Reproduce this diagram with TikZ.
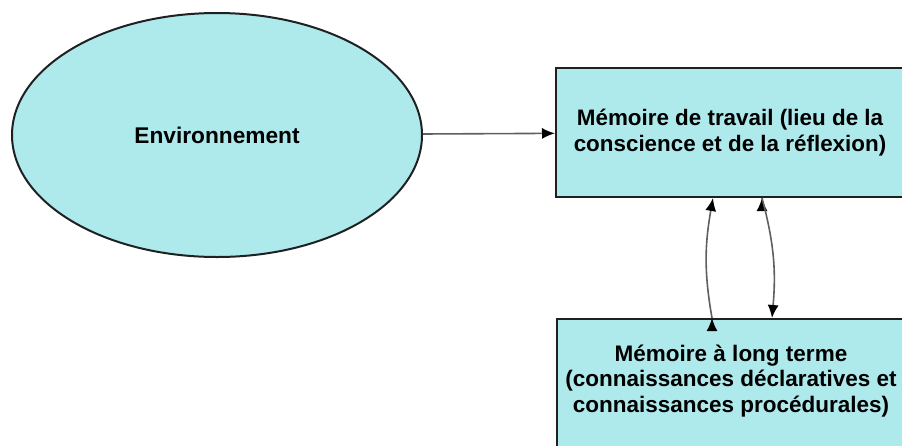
\documentclass[tikz,border=0pt]{standalone}
\usepackage{fontspec}
\setmainfont{Liberation Sans}
\usepackage{tikz}
\usetikzlibrary{positioning, shapes.geometric, arrows.meta}

\definecolor{cyanclair}{RGB}{174,234,236}
\definecolor{bord}{RGB}{30,32,34}
\definecolor{trait}{RGB}{95,95,95}

\begin{document}
\begin{tikzpicture}
        [x=1pt, y=-1pt,
         bulle/.style={ellipse, draw=bord, line width=2pt, fill=cyanclair, inner sep=0pt,
                       minimum width=410pt, minimum height=244pt,
                       font=\fontsize{22.7}{26}\selectfont\bfseries},
         bloc/.style={rectangle, draw=bord, line width=2pt, fill=cyanclair, inner sep=0pt,
                      minimum width=348pt, minimum height=129pt, align=center,
                      font=\fontsize{22.4}{26}\selectfont\bfseries},
         fleche/.style={draw=trait, line width=1.6pt, -{Latex[color=black, length=13pt, width=11pt]}}]
        \useasboundingbox (0,0) rectangle (902,445);
        \clip (0,0) rectangle (902,445);

        \node[bulle] (env) at (217,135) {Environnement};
        \node[bloc] (travail) at (730,132.5)
            {Mémoire de travail (lieu de la\\conscience et de la réflexion)};
        \node[bloc, minimum height=132pt] (longterme) at (731,385) {};
        \node[align=center, inner sep=0pt, font=\fontsize{22.5}{25.8}\selectfont\bfseries] (longtermetxt) at (731,381)
            {Mémoire à long terme\\(connaissances déclaratives et\\connaissances procédurales)};

        \path [fleche] (env) edge (travail);
        \path [fleche] ([xshift=-19pt]longterme.north) edge[out=100, in=260] ([xshift=-17pt]travail.south);
        \path [fleche] ([xshift=32pt]travail.south) edge[out=285, in=85] ([xshift=41pt]longterme.north);
    \end{tikzpicture}
\end{document}
